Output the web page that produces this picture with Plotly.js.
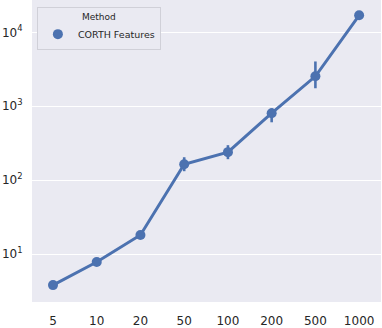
<!DOCTYPE html>
<html>
<head>
<meta charset="utf-8">
<script src="https://cdn.plot.ly/plotly-3.0.1.min.js"></script>
<style>
  html, body { margin: 0; padding: 0; background: #fff; }
  #myDiv { width: 382px; height: 328px; }
</style>
</head>
<body>
<div id="myDiv"></div>
<script>
var categories = ['5', '10', '20', '50', '100', '200', '500', '1000'];
var means = [3.8, 7.8, 18.1, 164, 239, 804, 2540, 17000];
var errUp = [0.3, 0.5, 1.2, 40, 58, 135, 1490, 600];
var errDown = [0.3, 0.5, 1.2, 32, 47, 198, 790, 600];
var yTickVals = [10, 100, 1000, 10000];
var yTickText = ['10<sup>1</sup>', '10<sup>2</sup>', '10<sup>3</sup>', '10<sup>4</sup>'];
var seriesName = 'CORTH Features';
var blue = '#4c72b0';

var data = [{
  x: categories,
  y: means,
  type: 'scatter',
  mode: 'lines',
  line: {color: blue, width: 3},
  showlegend: false,
  hoverinfo: 'skip'
}, {
  x: categories,
  y: means,
  type: 'scatter',
  mode: 'markers',
  name: seriesName,
  marker: {color: blue, size: 10},
  error_y: {
    type: 'data',
    symmetric: false,
    array: errUp,
    arrayminus: errDown,
    color: blue,
    thickness: 2.6,
    width: 0
  }
}];

var layout = {
  width: 382,
  height: 328,
  margin: {l: 32, r: 1, t: 0, b: 26},
  paper_bgcolor: '#ffffff',
  plot_bgcolor: '#eaeaf2',
  font: {family: 'DejaVu Sans, sans-serif', color: '#262626', size: 12},
  xaxis: {
    type: 'category',
    range: [-0.48, 7.5],
    showgrid: false,
    zeroline: false,
    showline: false,
    ticks: 'outside',
    ticklen: 8,
    tickcolor: 'rgba(0,0,0,0)',
    tickfont: {size: 12}
  },
  yaxis: {
    type: 'log',
    range: [0.351, 4.437],
    tickmode: 'array',
    tickvals: yTickVals,
    ticktext: yTickText,
    showgrid: true,
    gridcolor: '#ffffff',
    gridwidth: 1.3,
    zeroline: false,
    showline: false,
    ticks: 'outside',
    ticklen: 6,
    tickcolor: 'rgba(0,0,0,0)',
    tickfont: {size: 12}
  },
  legend: {
    x: 0.014,
    y: 0.977,
    xanchor: 'left',
    yanchor: 'top',
    bgcolor: '#eaeaf2',
    bordercolor: '#d0d0d8',
    borderwidth: 1,
    font: {size: 9.5, color: '#262626'},
    title: {text: 'Method', side: 'top center', font: {size: 9}}
  }
};

Plotly.newPlot('myDiv', data, layout, {displayModeBar: false});
</script>
</body>
</html>
